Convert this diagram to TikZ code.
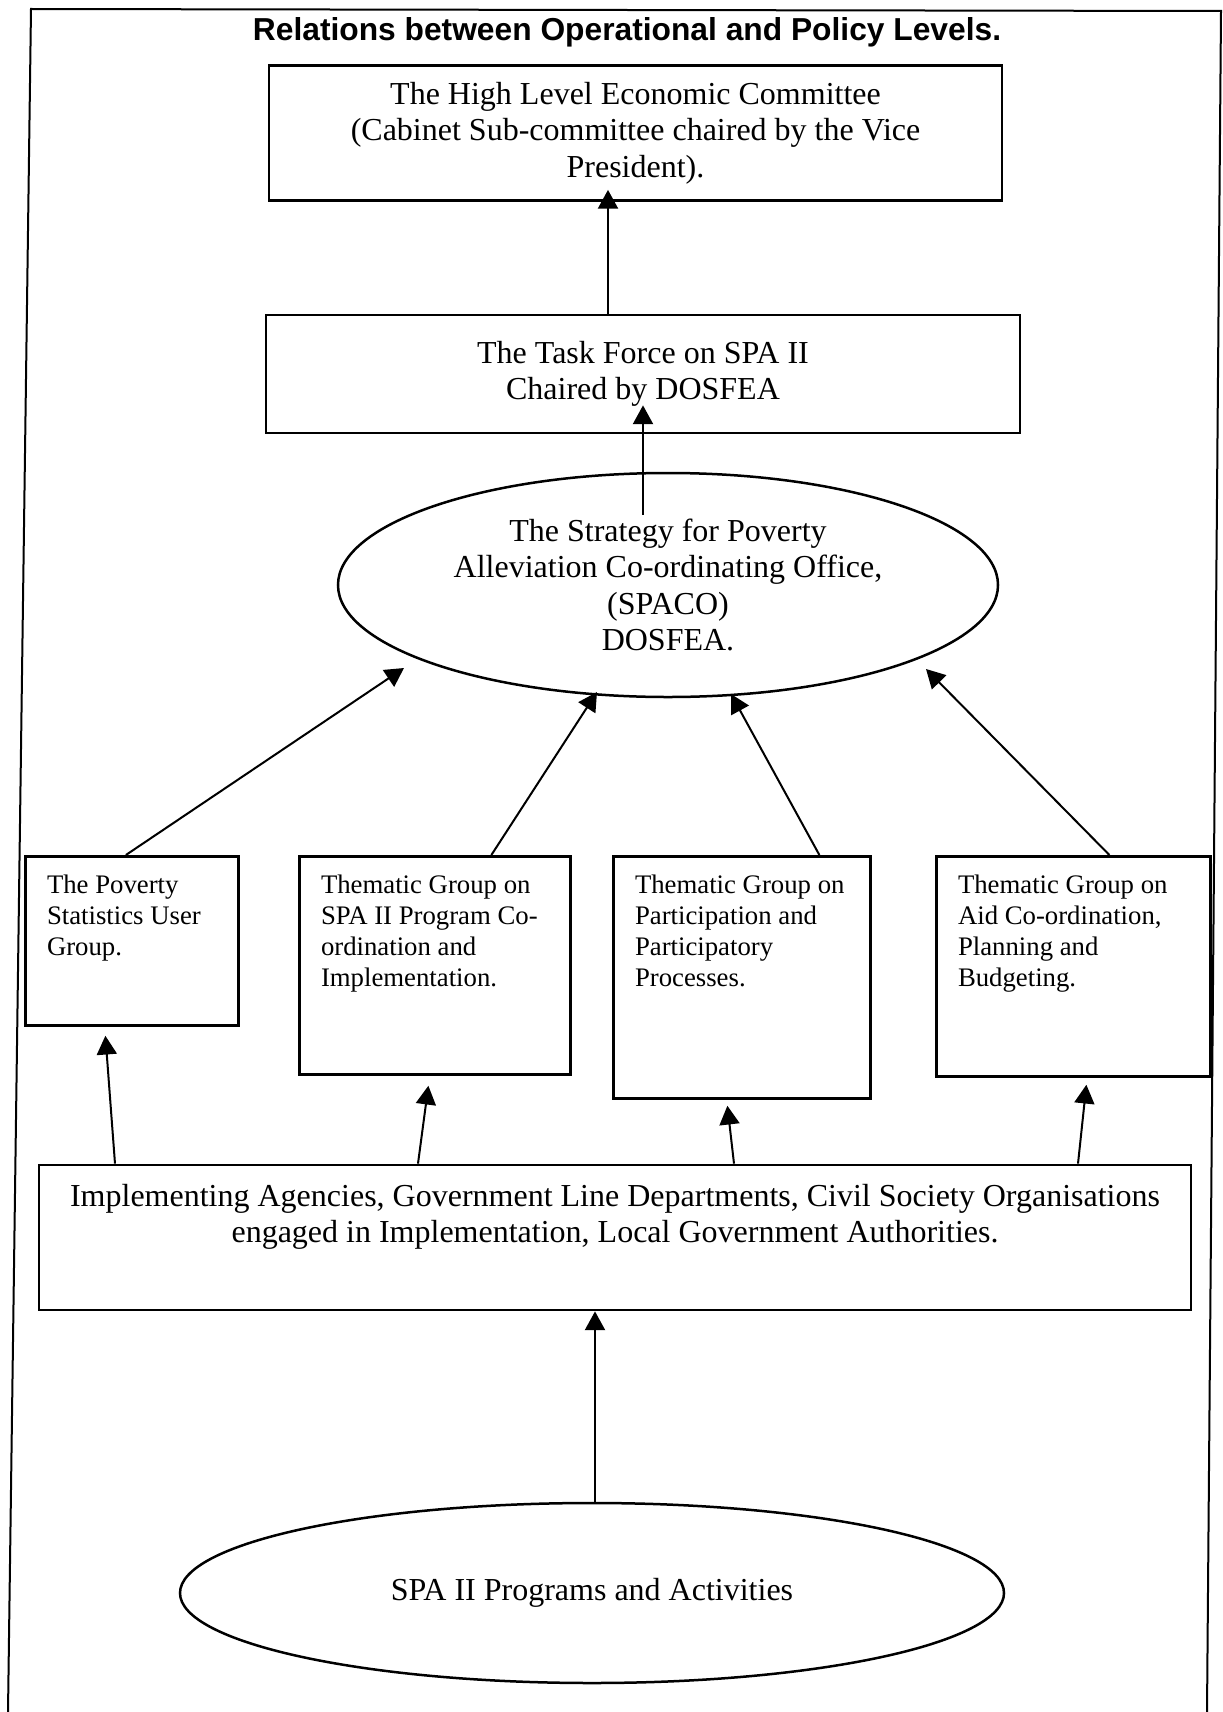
\documentclass[tikz,border=0pt]{standalone}
\usepackage{fontspec}
\setmainfont{Liberation Serif}
\newfontfamily\headfont{Liberation Sans}
\usepackage{tikz}
\usetikzlibrary{calc, shapes.geometric, arrows.meta}
\tikzstyle{head}=[font=\headfont\bfseries\fontsize{12.7}{15}\selectfont]
\tikzstyle{box}=[draw, line width=1.1pt, inner sep=0pt, align=center, font=\fontsize{12.8}{14.6}\selectfont]
\tikzstyle{oval}=[draw, ellipse, line width=1pt, inner sep=0pt, align=center, font=\fontsize{12.8}{14.6}\selectfont]
\tikzstyle{group}=[draw, line width=1.1pt, inner sep=0pt, anchor=north west]
\tikzstyle{grouptext}=[inner sep=0pt, anchor=north west, align=left, font=\fontsize{10.7}{12.4}\selectfont]

\begin{document}
\begin{tikzpicture}[x=0.4pt,y=-0.4pt,line width=0.8pt,>={Triangle[length=7.5pt,width=8pt]}]
      \useasboundingbox (0,0) rectangle (1222,1712);
      \draw (8,1712) -- (31,9) -- (1221,11) -- (1207,1712);

      \node [head] (title) at (627,32) {Relations between Operational and Policy Levels.};

      \node [box, minimum width=293.2pt, minimum height=54pt] (hlec) at (635.5,133)
            {The High Level Economic Committee\\(Cabinet Sub-committee chaired by the Vice\\President).};
      \node [box, minimum width=301.6pt, minimum height=47.2pt] (task) at (643,374)
            {The Task Force on SPA II\\Chaired by DOSFEA};
      \node [oval, minimum width=264pt, minimum height=89.6pt] (spaco) at (668,585)
            {The Strategy for Poverty\\Alleviation Co-ordinating Office,\\(SPACO)\\DOSFEA.};

      % thematic groups
      \node [group, minimum width=85.2pt, minimum height=67.6pt] (psug) at (24,855) {};
      \node [group, minimum width=108.4pt, minimum height=87.2pt] (prog) at (298,855) {};
      \node [group, minimum width=102.8pt, minimum height=96.8pt] (part) at (612,855) {};
      \node [group, minimum width=109.6pt, minimum height=88pt] (aid) at (935,855) {};
      \node [grouptext] (psugtext) at ($(psug.north west)+(22,19)$)
            {The Poverty\\Statistics User\\Group.};
      \node [grouptext] (progtext) at ($(prog.north west)+(22,19)$)
            {Thematic Group on\\SPA II Program Co-\\ordination and\\Implementation.};
      \node [grouptext] (parttext) at ($(part.north west)+(22,19)$)
            {Thematic Group on\\Participation and\\Participatory\\Processes.};
      \node [grouptext] (aidtext) at ($(aid.north west)+(22,19)$)
            {Thematic Group on\\Aid Co-ordination,\\Planning and\\Budgeting.};

      \node [box, minimum width=460.8pt, minimum height=58pt] (impl) at (615,1237.5) {};
      \node [box, draw=none, anchor=north] (impltext) at ($(impl.north)+(0,19)$)
            {Implementing Agencies, Government Line Departments, Civil Society Organisations\\engaged in Implementation, Local Government Authorities.};
      \node [oval, minimum width=329.6pt, minimum height=72pt] (spa) at (592,1593)
            {SPA II Programs and Activities};

      \path[->] ($(task.north)+(-35,0)$) edge ($(hlec.south)+(-27.5,-12)$);
      \path[->] ($(spaco.north)+(-25,43)$) edge ($(task.south)+(0,-29)$);

      \path[->] ($(psug.north)+(-6,0)$) edge ($(spaco.center)+(-264,83)$);
      \path[->] ($(prog.north)+(56.5,0)$) edge ($(spaco.center)+(-71,107)$);
      \path[->] ($(part.north)+(77.5,0)$) edge ($(spaco.center)+(63,109)$);
      \path[->] ($(aid.north)+(36,0)$) edge ($(spaco.center)+(258,84)$);

      \path[->] ($(impl.north)+(-500,0)$) edge ($(psug.south)+(-26.5,9)$);
      \path[->] ($(impl.north)+(-197,0)$) edge ($(prog.south)+(-6.5,10)$);
      \path[->] ($(impl.north)+(119,0)$) edge ($(part.south)+(-14.5,6)$);
      \path[->] ($(impl.north)+(463,0)$) edge ($(aid.south)+(13,7)$);

      \path[->] ($(spa.north)+(3,0)$) edge ($(impl.south)+(-20,0)$);
\end{tikzpicture}
\end{document}
